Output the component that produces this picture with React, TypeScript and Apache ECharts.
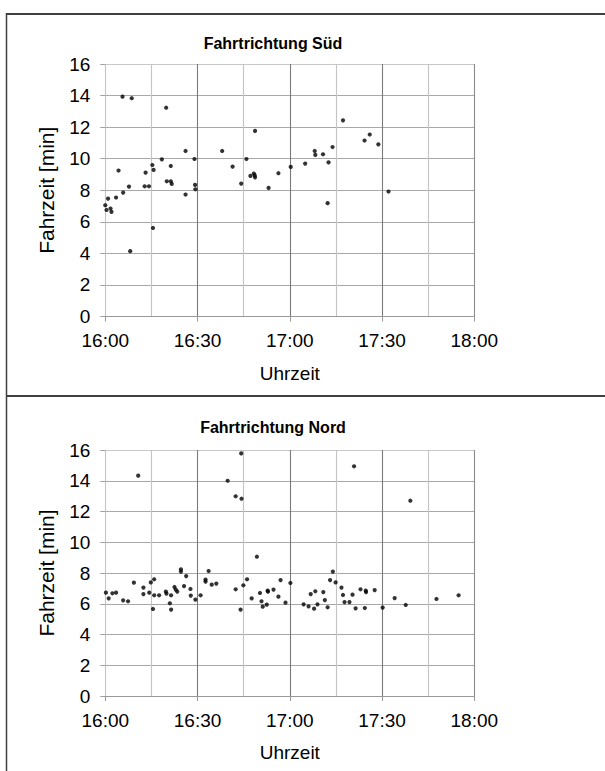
import React, { useEffect, useRef } from "react";
import * as echarts from "echarts";

// Minutes after 16:00 and travel times [min]
const sudMinutes = [0.0, 0.4, 0.9, 1.7, 2.0, 3.5, 4.3, 5.6, 5.8, 7.7, 8.1, 8.6, 12.8, 13.1, 14.2, 15.3, 15.5, 15.7, 18.4, 19.8, 20.0, 21.3, 21.3, 21.6, 26.1, 26.1, 29.0, 29.2, 29.3, 38.0, 41.4, 44.2, 45.9, 47.2, 48.3, 48.7, 48.6, 48.7, 53.1, 56.3, 60.3, 65.0, 68.1, 68.3, 70.8, 72.3, 72.6, 73.9, 77.3, 84.3, 86.0, 88.8, 92.1];
const sudValues = [7.05, 6.75, 7.47, 6.84, 6.63, 7.54, 9.25, 13.93, 7.85, 8.23, 4.14, 13.83, 8.25, 9.12, 8.25, 9.6, 5.61, 9.29, 9.96, 13.23, 8.57, 9.54, 8.57, 8.4, 10.49, 7.73, 9.98, 8.34, 8.06, 10.49, 9.5, 8.42, 9.98, 8.91, 9.06, 11.76, 8.95, 8.82, 8.15, 9.08, 9.48, 9.69, 10.49, 10.24, 10.28, 7.18, 9.77, 10.74, 12.43, 11.15, 11.53, 10.91, 7.92];

const nordMinutes = [0.2, 1.1, 2.3, 3.5, 5.8, 7.4, 9.3, 10.7, 12.4, 12.4, 14.3, 14.8, 15.5, 15.9, 15.9, 17.5, 19.7, 19.9, 21.0, 21.4, 21.4, 22.5, 22.9, 23.4, 24.6, 24.6, 25.6, 26.3, 27.7, 27.8, 29.3, 31.0, 32.6, 32.6, 33.6, 34.6, 36.1, 39.8, 42.4, 42.4, 44.2, 44.3, 44.0, 44.9, 46.1, 47.6, 49.3, 50.3, 50.8, 51.2, 52.5, 52.8, 52.9, 54.7, 56.3, 57.0, 58.6, 60.2, 64.5, 66.1, 66.8, 67.9, 68.3, 69.0, 70.9, 71.4, 72.3, 73.1, 74.0, 74.9, 76.8, 77.3, 77.8, 79.4, 80.4, 80.9, 81.4, 83.0, 84.7, 84.8, 84.4, 87.6, 90.2, 94.1, 97.7, 99.2, 107.7, 114.9];
const nordValues = [6.72, 6.35, 6.68, 6.72, 6.22, 6.16, 7.37, 14.33, 7.05, 6.63, 6.72, 7.39, 5.66, 7.59, 6.55, 6.55, 6.79, 6.66, 6.03, 5.62, 6.55, 7.09, 6.92, 6.79, 8.24, 8.09, 7.15, 7.8, 6.96, 6.53, 6.27, 6.55, 7.57, 7.44, 8.13, 7.24, 7.31, 14.0, 12.99, 6.94, 15.78, 12.83, 5.62, 7.2, 7.59, 6.35, 9.06, 6.7, 6.16, 5.81, 5.94, 6.85, 6.79, 6.92, 6.46, 7.54, 6.07, 7.35, 5.96, 5.83, 6.63, 5.68, 6.81, 5.96, 6.76, 6.24, 5.77, 7.54, 8.09, 7.39, 7.05, 6.57, 6.11, 6.11, 6.59, 14.94, 5.7, 6.94, 6.85, 6.76, 5.72, 6.89, 5.75, 6.37, 5.92, 12.7, 6.31, 6.55];

const timeTickLabels = ["16:00", "16:30", "17:00", "17:30", "18:00"];
const titles = ["Fahrtrichtung Süd", "Fahrtrichtung Nord"];
const yAxisTitle = "Fahrzeit [min]";
const xAxisTitle = "Uhrzeit";

const FONT = "'Liberation Sans', Arial, sans-serif";

function xAxis(gridIndex: number) {
  return {
    type: "value",
    gridIndex,
    min: 0,
    max: 120,
    interval: 30,
    name: xAxisTitle,
    nameLocation: "middle",
    nameGap: 47,
    nameTextStyle: { fontFamily: FONT, fontSize: 19, color: "#000" },
    axisLine: { show: true, lineStyle: { color: "#999", width: 1 } },
    axisTick: { show: true, length: 5, lineStyle: { color: "#999" } },
    axisLabel: {
      fontFamily: FONT,
      fontSize: 19,
      color: "#000",
      margin: 14.5,
      formatter: (v: number) => timeTickLabels[Math.round(v / 30)] ?? "",
    },
    minorTick: { show: false, splitNumber: 2 },
    minorSplitLine: { show: true, lineStyle: { color: "#c4c4c4", width: 1.1 } },
    splitLine: {
      show: true,
      lineStyle: { color: ["#c4c4c4", "#7a7a7a", "#7a7a7a", "#7a7a7a", "#8a8a8a"], width: 1.1 },
    },
  };
}

function yAxis(gridIndex: number) {
  return {
    type: "value",
    gridIndex,
    min: 0,
    max: 16,
    interval: 2,
    name: yAxisTitle,
    nameLocation: "middle",
    nameRotate: 90,
    nameGap: 48,
    nameTextStyle: { fontFamily: FONT, fontSize: 21, color: "#000" },
    axisLine: { show: false },
    axisTick: { show: true, length: 5, lineStyle: { color: "#a0a0a0" } },
    axisLabel: { fontFamily: FONT, fontSize: 19, color: "#000", margin: 15 },
    splitLine: {
      show: true,
      lineStyle: {
        color: ["#999", "#a8a8a8", "#a8a8a8", "#a8a8a8", "#a8a8a8", "#a8a8a8", "#a8a8a8", "#a8a8a8", "#c8c8c8"],
        width: 1.1,
      },
    },
  };
}

export default function App() {
  const ref = useRef<HTMLDivElement>(null);
  useEffect(() => {
    if (!ref.current) return;
    const chart = echarts.init(ref.current, undefined, { renderer: "svg" });
    const frameColor = "#404040";
    const titleStyle = {
      fontFamily: FONT,
      fontSize: 16,
      fontWeight: "bold",
      fill: "#000",
      textAlign: "center",
      textVerticalAlign: "middle",
    };
    chart.setOption({
      animation: false,
      backgroundColor: "#fff",
      grid: [
        { left: 105.3, top: 64, width: 369, height: 252.5 },
        { left: 105.3, top: 450, width: 369, height: 246 },
      ],
      xAxis: [xAxis(0), xAxis(1)],
      yAxis: [yAxis(0), yAxis(1)],
      series: [
        {
          type: "scatter",
          xAxisIndex: 0,
          yAxisIndex: 0,
          symbolSize: 4.2,
          itemStyle: { color: "#000" },
          data: sudMinutes.map((m, i) => [m, sudValues[i]]),
        },
        {
          type: "scatter",
          xAxisIndex: 1,
          yAxisIndex: 1,
          symbolSize: 4.2,
          itemStyle: { color: "#000" },
          data: nordMinutes.map((m, i) => [m, nordValues[i]]),
        },
      ],
      graphic: [
        { type: "line", shape: { x1: 6.5, y1: 14, x2: 605, y2: 14 }, style: { stroke: frameColor, lineWidth: 2 } },
        { type: "line", shape: { x1: 6.5, y1: 13, x2: 6.5, y2: 771 }, style: { stroke: frameColor, lineWidth: 1.5 } },
        { type: "line", shape: { x1: 6.5, y1: 396, x2: 605, y2: 396 }, style: { stroke: frameColor, lineWidth: 2 } },
        { type: "text", x: 273, y: 43, style: { ...titleStyle, text: titles[0] } },
        { type: "text", x: 273, y: 427, style: { ...titleStyle, text: titles[1] } },
      ],
    });
    return () => chart.dispose();
  }, []);
  return (
    <div
      ref={ref}
      style={{ position: "absolute", left: 0, top: 0, width: 605, height: 771, background: "#fff" }}
    />
  );
}
